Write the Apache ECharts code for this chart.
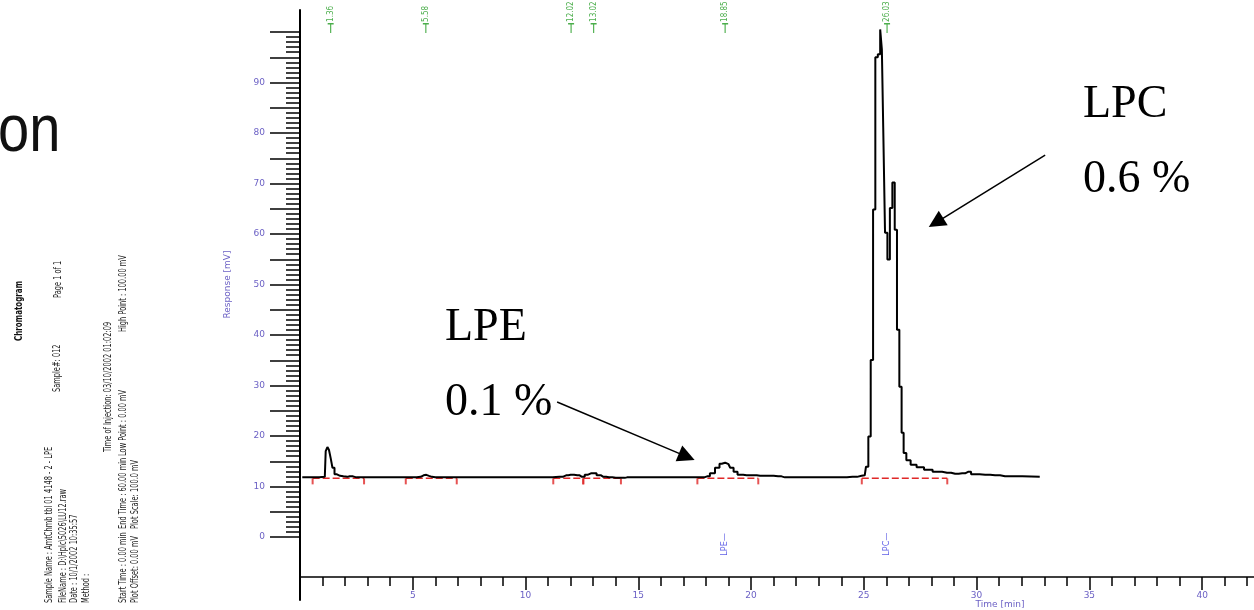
<!DOCTYPE html>
<html><head><meta charset="utf-8">
<script src="https://cdn.jsdelivr.net/npm/echarts@6.0.0/dist/echarts.min.js"></script>
<style>html,body{margin:0;padding:0;background:#fff}#main{width:1254px;height:610px}</style>
</head><body><div id="main"></div>
<script>
// ---- data ----
const traceTimes = [0.1, 0.6, 1.1, 1.18, 1.25, 1.32, 1.4, 1.48, 1.58, 1.7, 1.85, 2.0, 2.2, 2.5, 3.0, 3.5, 4.0, 4.5, 5.0,
  5.35, 5.48, 5.6, 5.72, 5.85, 6.0, 6.5, 7.0, 8.0, 9.0, 10.0, 10.9, 11.5, 11.8, 12.0, 12.3, 12.5, 12.75, 12.9, 13.05,
  13.25, 13.45, 13.7, 14.0, 14.3, 14.5, 15.0, 16.0, 17.0, 17.8, 18.05, 18.3, 18.5, 18.7, 18.85, 19.0, 19.15, 19.3,
  19.5, 19.8, 20.1, 20.4, 20.8, 21.2, 21.5, 22.0, 23.0, 24.0, 24.5, 24.9, 25.04, 25.15, 25.25, 25.36, 25.46, 25.56,
  25.68, 25.77, 25.83, 25.89, 25.99, 26.1, 26.21, 26.32, 26.42, 26.52, 26.63, 26.72, 26.81, 26.96, 27.19, 27.49,
  27.85, 28.25, 28.69, 29.05, 29.36, 29.62, 29.89, 30.38, 30.82, 31.26, 32.8];
const traceResponse = [11.8, 11.8, 11.9, 17.0, 17.8, 17.2, 15.6, 13.7, 12.4, 12.1, 12.0, 11.9, 12.0, 11.8, 11.8, 11.8, 11.8, 11.8, 11.8,
  11.9, 12.2, 12.3, 12.1, 11.9, 11.8, 11.8, 11.8, 11.8, 11.8, 11.8, 11.8, 11.9, 12.2, 12.3, 12.2, 11.9, 12.3, 12.6, 12.6,
  12.2, 11.9, 11.8, 11.7, 11.7, 11.8, 11.8, 11.8, 11.8, 11.8, 12.0, 12.6, 13.7, 14.5, 14.7, 14.4, 13.7, 12.9,
  12.3, 12.2, 12.2, 12.1, 12.1, 12.0, 11.8, 11.8, 11.8, 11.8, 11.9, 12.1, 12.2, 13.9, 19.9, 35.0, 64.8, 94.9,
  95.5, 100.4, 96.4, 81.0, 60.2, 54.9, 65.1, 70.1, 60.8, 41.0, 29.7, 20.6, 16.6, 15.2, 14.3, 13.8,
  13.3, 12.9, 12.7, 12.5, 12.6, 12.9, 12.4, 12.3, 12.2, 12.0, 11.9];

const peakTimes  = [1.36, 5.58, 12.02, 13.02, 18.85, 26.03];
const peakLabels = ['1.36', '5.58', '12.02', '13.02', '18.85', '26.03'];
const compoundTimes = [18.85, 26.03];
const compoundNames = ['LPE', 'LPC'];

const baselineStarts = [0.56, 4.69, 11.23, 12.56, 17.62, 24.91];
const baselineEnds   = [2.84, 6.95, 12.56, 14.23, 20.32, 28.70];
const baselineLevel  = 11.6;

const yTickLabels = [0, 10, 20, 30, 40, 50, 60, 70, 80, 90];
const xTickLabels = [5, 10, 15, 20, 25, 30, 35, 40];

const annotationNames = ['LPE', 'LPC'];
const annotationPercents = ['0.1 %', '0.6 %'];

const headerLines = [
  'Sample Name : AmtChmb tbl 01 4148 - 2 - LPE', 'Sample#: 012', 'Page 1 of 1',
  'FileName : D:\\Hplc\\5026\\LU12.raw', 'Date : 10/1/2002 10:35:57', 'Method :',
  'Time of Injection: 03/10/2002 01:02:09',
  'Start Time : 0.00 min', 'End Time : 60.00 min', 'Low Point : 0.00 mV', 'High Point : 100.00 mV',
  'Plot Offset: 0.00 mV', 'Plot Scale: 100.0 mV'
];

// ---- build ----
const trace = traceTimes.map((t, i) => [t, traceResponse[i]]);
const baselineData = [];
const baselineTicks = [];
baselineStarts.forEach((s, i) => {
  if (i > 0) baselineData.push([null, null]);
  baselineData.push([s, baselineLevel], [baselineEnds[i], baselineLevel]);
  baselineTicks.push([s, baselineLevel], [baselineEnds[i], baselineLevel]);
});
const yMinor = []; for (let i = 0; i <= 100; i++) yMinor.push(i);
const yMajor = []; for (let i = 0; i <= 100; i += 5) yMajor.push(i);
const xMinor = []; for (let i = 1; i <= 42; i++) xMinor.push(i);
const xMajor = xTickLabels.slice();

const purple = '#6a5fc4';
const axisFont = 'DejaVu Sans';
const narrow = '"Liberation Sans Narrow", "DejaVu Sans Condensed", sans-serif';

const chart = echarts.init(document.getElementById('main'), null, {renderer: 'canvas'});

const headerPos = [
  [49, 603], [57, 392], [58, 298],
  [63, 603], [74, 603], [86, 603],
  [108, 452],
  [123, 603], [123, 529], [123, 456], [123, 332],
  [135, 603], [135, 529]
];
const graphics = headerLines.map((txt, i) => ({
  type: 'text', x: headerPos[i][0], y: headerPos[i][1], rotation: Math.PI / 2, scaleX: 0.74,
  style: {text: txt, fill: '#222', font: '10px ' + narrow, align: 'left', verticalAlign: 'middle'}
}));
graphics.push({
  type: 'text', x: 19, y: 341, rotation: Math.PI / 2, scaleX: 0.72,
  style: {text: 'Chromatogram', fill: '#111', font: 'bold 11px ' + narrow, align: 'left', verticalAlign: 'middle'}
});
graphics.push({
  type: 'text', x: -2, y: 133, scaleX: 0.85,
  style: {text: 'on', fill: '#111', font: '66px "Liberation Sans", sans-serif', align: 'left', verticalAlign: 'middle'}
});
const annPos = [[445, 328, 445, 403], [1083, 105, 1083, 180]];
annotationNames.forEach((n, i) => {
  graphics.push({type: 'text', x: annPos[i][0], y: annPos[i][1],
    style: {text: n, fill: '#000', font: '46px "Liberation Serif", serif', align: 'left', verticalAlign: 'middle'}});
  graphics.push({type: 'text', x: annPos[i][2], y: annPos[i][3],
    style: {text: annotationPercents[i], fill: '#000', font: '46px "Liberation Serif", serif', align: 'left', verticalAlign: 'middle'}});
});

const option = {
  animation: false,
  backgroundColor: '#fff',
  grid: [
    {left: 300, right: 0, top: 12, bottom: 33, outerBoundsMode: 'none'},
    {left: 300, right: 0, top: 32, bottom: 73, outerBoundsMode: 'none'},
    {left: 300, width: 2, top: 10, bottom: 10, outerBoundsMode: 'none'}
  ],
  xAxis: [
    {gridIndex: 0, type: 'value', min: 0, max: 42.3, position: 'bottom',
      axisLine: {show: true, onZero: false, lineStyle: {color: '#000', width: 1.5}},
      axisTick: {show: true, customValues: xMinor, length: 9, lineStyle: {color: '#000', width: 1.5}},
      axisLabel: {show: false}, splitLine: {show: false}},
    {gridIndex: 0, type: 'value', min: 0, max: 42.3, position: 'bottom',
      axisLine: {show: false, onZero: false},
      axisTick: {show: true, customValues: xMajor, length: 13, lineStyle: {color: '#000', width: 1.5}},
      axisLabel: {show: true, customValues: xTickLabels, margin: 14, color: purple, fontSize: 9, fontFamily: axisFont},
      splitLine: {show: false},
      name: 'Time [min]', nameLocation: 'middle', nameGap: 23, nameMoveOverlap: false,
      nameTextStyle: {color: purple, fontSize: 9, fontFamily: axisFont, padding: [0, 0, 0, 446]}},
    {gridIndex: 1, type: 'value', min: 0, max: 1, show: false},
    {gridIndex: 2, type: 'value', min: 0, max: 1, show: false}
  ],
  yAxis: [
    {gridIndex: 0, type: 'value', min: -7.91, max: 103.85, position: 'left', show: false},
    {gridIndex: 1, type: 'value', min: 0, max: 100, position: 'left',
      axisLine: {show: false},
      axisTick: {show: true, customValues: yMinor, length: 14, lineStyle: {color: '#000', width: 1.5}},
      axisLabel: {show: false}, splitLine: {show: false}},
    {gridIndex: 1, type: 'value', min: 0, max: 100, position: 'left',
      axisLine: {show: false},
      axisTick: {show: true, customValues: yMajor, length: 30, lineStyle: {color: '#000', width: 1.5}},
      axisLabel: {show: true, customValues: yTickLabels, margin: 35, color: purple, fontSize: 9, fontFamily: axisFont},
      splitLine: {show: false},
      name: 'Response [mV]', nameLocation: 'middle', nameGap: 68, nameRotate: 90, nameMoveOverlap: false,
      nameTextStyle: {color: purple, fontSize: 9, fontFamily: axisFont}},
    {gridIndex: 2, type: 'value', min: 0, max: 1, position: 'left',
      axisLine: {show: true, lineStyle: {color: '#000', width: 2}},
      axisTick: {show: false}, axisLabel: {show: false}, splitLine: {show: false}}
  ],
  series: [
    {type: 'line', name: 'baseline', xAxisIndex: 0, yAxisIndex: 0, data: baselineData,
      symbol: 'none', connectNulls: false, silent: true,
      lineStyle: {color: '#e02828', width: 1.5, type: [7, 3]}},
    {type: 'scatter', name: 'baselineTicks', xAxisIndex: 0, yAxisIndex: 0, data: baselineTicks,
      symbol: 'rect', symbolSize: [2, 6], symbolOffset: [0, 3], silent: true,
      itemStyle: {color: '#e02828'}},
    {type: 'line', name: 'trace', xAxisIndex: 0, yAxisIndex: 0, data: trace,
      symbol: 'none', step: 'middle', silent: true,
      lineStyle: {color: '#000', width: 2},
      markLine: {
        silent: true, symbol: ['none', 'triangle'], symbolSize: 17,
        lineStyle: {color: '#000', width: 1.5, type: 'solid'}, label: {show: false},
        emphasis: {disabled: true},
        data: [
          [{coord: [33.04, 75.56]}, {coord: [28.2, 62.2]}],
          [{coord: [11.4, 26.7]}, {coord: [17.15, 15.9]}]
        ]
      }},
    {type: 'scatter', name: 'peakMarks', xAxisIndex: 0, yAxisIndex: 0,
      data: peakTimes.map((t, i) => ({value: [t, 100.7], label: {formatter: peakLabels[i]}})),
      symbol: 'path://M0,0H8V1.5H4.75V10H3.25V1.5H0Z', symbolSize: [6, 10], silent: true,
      itemStyle: {color: '#1e9a1e'},
      label: {show: true, position: 'top', distance: 1, rotate: 90, align: 'left', verticalAlign: 'middle',
        color: '#1e9a1e', fontSize: 8, fontFamily: narrow}},
    {type: 'scatter', name: 'compounds', xAxisIndex: 0, yAxisIndex: 0,
      data: compoundTimes.map((t, i) => ({value: [t, -3.8], label: {formatter: compoundNames[i] + '\u2014'}})),
      symbol: 'circle', symbolSize: 1, silent: true,
      itemStyle: {color: 'rgba(0,0,0,0)'},
      label: {show: true, position: 'top', distance: 0, rotate: 90, align: 'left', verticalAlign: 'middle',
        color: '#3434e0', fontSize: 9, fontFamily: narrow}}
  ],
  graphic: graphics
};
chart.setOption(option);
</script></body></html>
